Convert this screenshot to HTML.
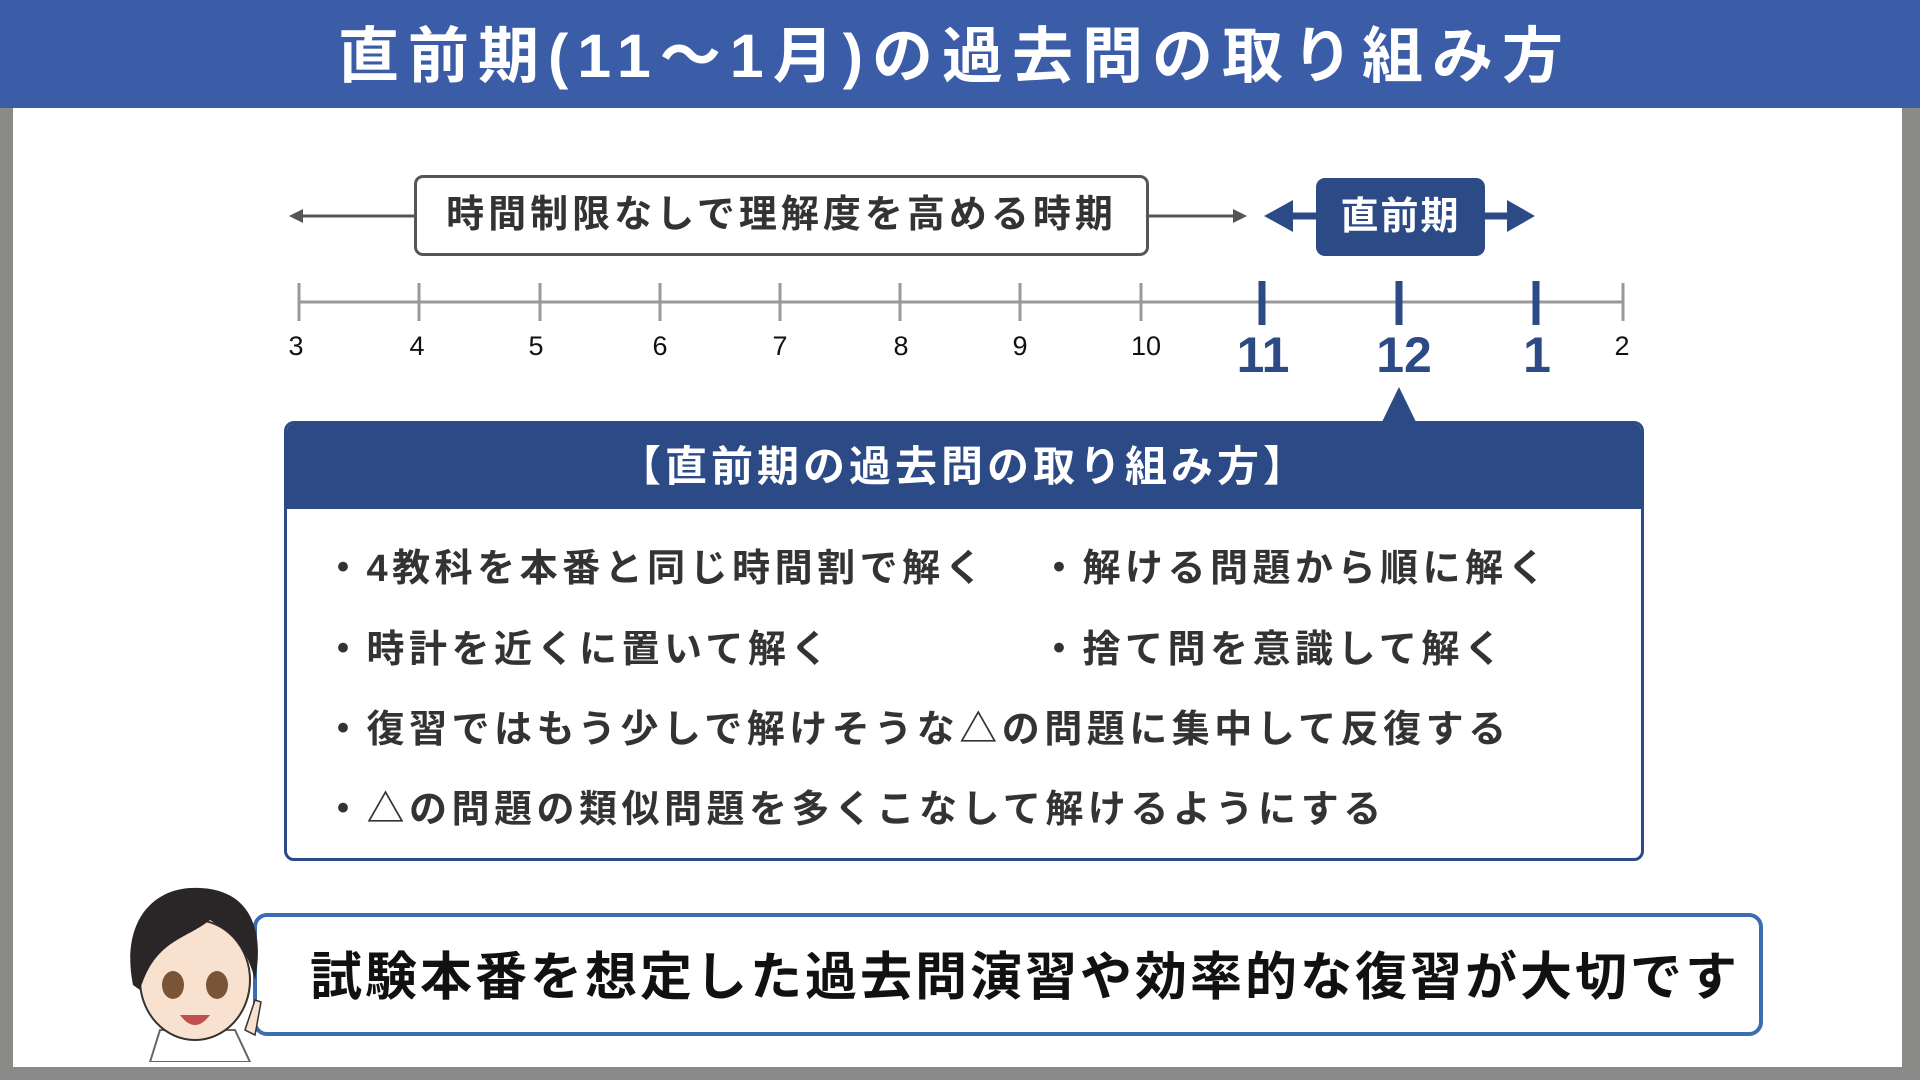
<!DOCTYPE html>
<html><head><meta charset="utf-8"><style>
*{margin:0;padding:0;box-sizing:border-box}
body{width:1920px;height:1080px;position:relative;background:#8a8a88;overflow:hidden;font-family:"Liberation Sans","Noto Sans CJK JP",sans-serif}
.a{position:absolute}
.main{left:13px;top:0;width:1889px;height:1067px;background:#fff}
.hdr{left:0;top:0;width:1920px;height:108px;background:#3b5ca6;color:#fff;font-size:61px;font-weight:bold;text-align:center;line-height:112px;letter-spacing:9px;padding-right:10px}
.lbl{font-size:27px;color:#111;transform:translateX(-50%);top:331px}
.big{font-size:50px;font-weight:bold;color:#2c4a86;transform:translateX(-50%);top:326px}
.b{font-size:38px;color:#333;font-weight:bold;letter-spacing:4.5px}
</style></head><body>
<div class="a main"></div>
<div class="a hdr">直前期(11〜1月)の過去問の取り組み方</div>

<svg class="a" style="left:0;top:0" width="1920" height="1080">
 <line x1="296" y1="216" x2="414" y2="216" stroke="#555" stroke-width="3"/>
 <polygon points="289,216 303,209 303,223" fill="#555"/>
 <line x1="1149" y1="216" x2="1238" y2="216" stroke="#555" stroke-width="3"/>
 <polygon points="1247,216 1233,209 1233,223" fill="#555"/>
 <line x1="1290" y1="216" x2="1316" y2="216" stroke="#2c4a86" stroke-width="7"/>
 <polygon points="1264,216 1293,200 1293,232" fill="#2c4a86"/>
 <line x1="1485" y1="216" x2="1510" y2="216" stroke="#2c4a86" stroke-width="7"/>
 <polygon points="1535,216 1507,200 1507,232" fill="#2c4a86"/>
 <line x1="299" y1="302" x2="1624" y2="302" stroke="#999" stroke-width="3"/>
 <g stroke="#999" stroke-width="3">
  <line x1="299" y1="283" x2="299" y2="321"/><line x1="419" y1="283" x2="419" y2="321"/>
  <line x1="540" y1="283" x2="540" y2="321"/><line x1="660" y1="283" x2="660" y2="321"/>
  <line x1="780" y1="283" x2="780" y2="321"/><line x1="900" y1="283" x2="900" y2="321"/>
  <line x1="1020" y1="283" x2="1020" y2="321"/><line x1="1141" y1="283" x2="1141" y2="321"/>
  <line x1="1623" y1="283" x2="1623" y2="321"/>
 </g>
 <g stroke="#2c4a86" stroke-width="7">
  <line x1="1262" y1="281" x2="1262" y2="325"/><line x1="1399" y1="281" x2="1399" y2="325"/><line x1="1536" y1="281" x2="1536" y2="325"/>
 </g>
 <polygon points="1399,387 1381,424 1417,424" fill="#2c4a86"/>
</svg>

<div class="a" style="left:414px;top:175px;width:735px;height:81px;border:3px solid #555;border-radius:9px;font-size:38px;font-weight:bold;color:#333;text-align:center;line-height:75px;letter-spacing:4px">時間制限なしで理解度を高める時期</div>
<div class="a" style="left:1316px;top:178px;width:169px;height:78px;background:#2c4a86;border-radius:9px;font-size:38px;font-weight:bold;color:#fff;text-align:center;line-height:78px;letter-spacing:2px">直前期</div>

<div class="a lbl" style="left:296px">3</div><div class="a lbl" style="left:417px">4</div>
<div class="a lbl" style="left:536px">5</div><div class="a lbl" style="left:660px">6</div>
<div class="a lbl" style="left:780px">7</div><div class="a lbl" style="left:901px">8</div>
<div class="a lbl" style="left:1020px">9</div><div class="a lbl" style="left:1146px">10</div>
<div class="a lbl" style="left:1622px">2</div>
<div class="a big" style="left:1263px">11</div><div class="a big" style="left:1404px">12</div><div class="a big" style="left:1537px">1</div>

<div class="a" style="left:284px;top:421px;width:1360px;height:440px;border:3px solid #2c4a86;border-radius:10px;overflow:hidden">
 <div style="height:85px;background:#2c4a86;color:#fff;font-size:42px;font-weight:bold;text-align:center;line-height:86px;letter-spacing:4px">【直前期の過去問の取り組み方】</div>
</div>
<div class="a b" style="left:324px;top:537px">・4教科を本番と同じ時間割で解く</div>
<div class="a b" style="left:1040px;top:537px">・解ける問題から順に解く</div>
<div class="a b" style="left:324px;top:618px">・時計を近くに置いて解く</div>
<div class="a b" style="left:1040px;top:618px">・捨て問を意識して解く</div>
<div class="a b" style="left:324px;top:698px">・復習ではもう少しで解けそうな△の問題に集中して反復する</div>
<div class="a b" style="left:324px;top:778px">・△の問題の類似問題を多くこなして解けるようにする</div>

<div class="a" style="left:253px;top:913px;width:1510px;height:123px;border:4px solid #3a6eb0;border-radius:14px"></div>
<div class="a" style="left:310px;top:935px;font-size:52px;font-weight:bold;color:#111;letter-spacing:3px">試験本番を想定した過去問演習や効率的な復習が大切です</div>

<svg class="a" style="left:115px;top:880px" width="170" height="182">
 <path d="M35 182 L45 150 L120 150 L135 182Z" fill="#fff" stroke="#666" stroke-width="2"/>
 <ellipse cx="80" cy="100" rx="55" ry="60" fill="#f8e2cf" stroke="#333" stroke-width="2"/>
 <path d="M18 105 C5 40 40 5 85 8 C135 10 150 50 140 100 C130 60 110 50 95 40 C70 60 40 60 25 110Z" fill="#2a2627"/>
 <ellipse cx="58" cy="105" rx="11" ry="14" fill="#7a5436"/>
 <ellipse cx="102" cy="105" rx="11" ry="14" fill="#7a5436"/>
 <path d="M65 135 Q80 155 95 135Z" fill="#c0504d"/>
 <path d="M130 150 L140 120 L146 122 L140 155Z" fill="#f8e2cf" stroke="#333" stroke-width="1.5"/>
</svg>
</body></html>
